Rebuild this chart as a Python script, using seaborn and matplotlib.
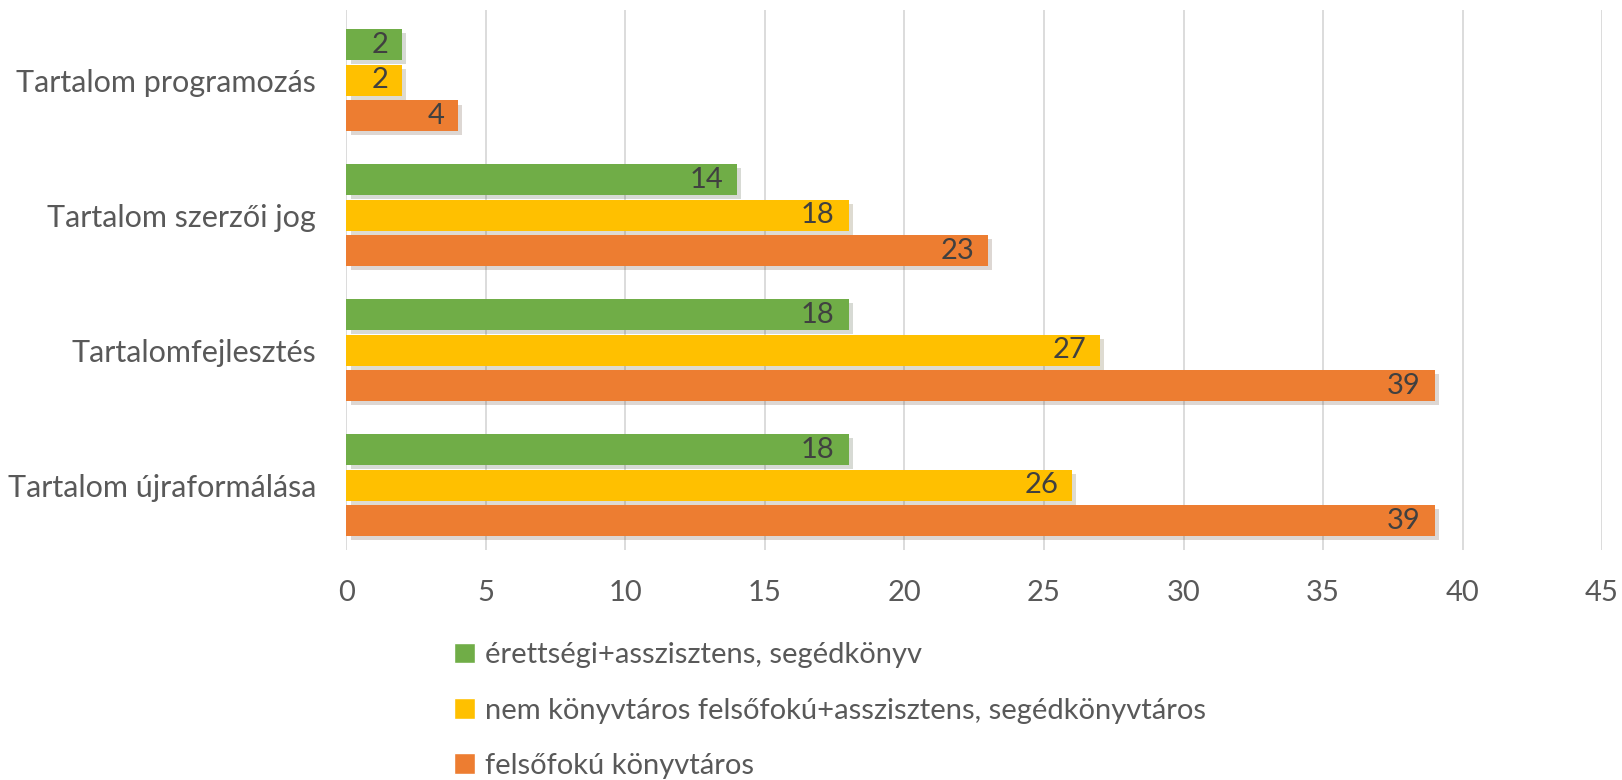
import numpy as np
import pandas as pd
import matplotlib
matplotlib.use("Agg")
import matplotlib.pyplot as plt
import matplotlib.patheffects as pe
import seaborn as sns

categories = ["Tartalom programozás", "Tartalom szerzői jog",
              "Tartalomfejlesztés", "Tartalom újraformálása"]
groups = ["érettségi+asszisztens, segédkönyv",
          "nem könyvtáros felsőfokú+asszisztens, segédkönyvtáros",
          "felsőfokú könyvtáros"]
green_vals = [2, 14, 18, 18]
yellow_vals = [2, 18, 27, 26]
orange_vals = [4, 23, 39, 39]
colors = ["#70AD47", "#FFC000", "#ED7D31"]

df = pd.DataFrame({
    "cat": categories * 3,
    "grp": [groups[0]] * 4 + [groups[1]] * 4 + [groups[2]] * 4,
    "val": green_vals + yellow_vals + orange_vals,
})

sns.set_theme(style="white")
plt.rcParams["font.family"] = ["Lato", "DejaVu Sans"]

fig = plt.figure(figsize=(16.22, 7.8), dpi=100)
ax = fig.add_axes([0.2136, 0.295, 0.7741, 0.692])

sns.barplot(data=df, y="cat", x="val", hue="grp", order=categories,
            hue_order=groups, palette=colors, saturation=1, orient="h",
            width=0.79, gap=0.13, ax=ax, legend=True)

shadow = [pe.SimplePatchShadow(offset=(3, -3), alpha=0.18), pe.Normal()]
for cont in ax.containers:
    for p in cont:
        p.set_path_effects(shadow)
        p.set_edgecolor("none")
    labels = ax.bar_label(cont, fmt="%d", padding=-10, fontsize=21, color="#404040")
    for t in labels:
        t.set_ha("right")

ax.set_xlim(0, 45)
ax.set_xticks(np.arange(0, 50, 5))
ax.set_ylim(3.48, -0.52)
ax.set_xlabel("")
ax.set_ylabel("")
ax.grid(axis="x", color="#D9D9D9", linewidth=1.3)
ax.set_axisbelow(True)
for s in ax.spines.values():
    s.set_visible(False)
ax.tick_params(axis="both", length=0, labelcolor="#595959")
ax.tick_params(axis="x", pad=22, labelsize=21)
ax.tick_params(axis="y", pad=22, labelsize=22)

handles, labs = ax.get_legend_handles_labels()
ax.legend_.remove()
fig.legend(handles, labs, loc="upper left", bbox_to_anchor=(0.264, 0.21),
           frameon=False, fontsize=21, labelcolor="#595959",
           handlelength=0.7, handleheight=0.7, handletextpad=0.35,
           labelspacing=1.0)

fig.savefig("out.png", dpi=100)
